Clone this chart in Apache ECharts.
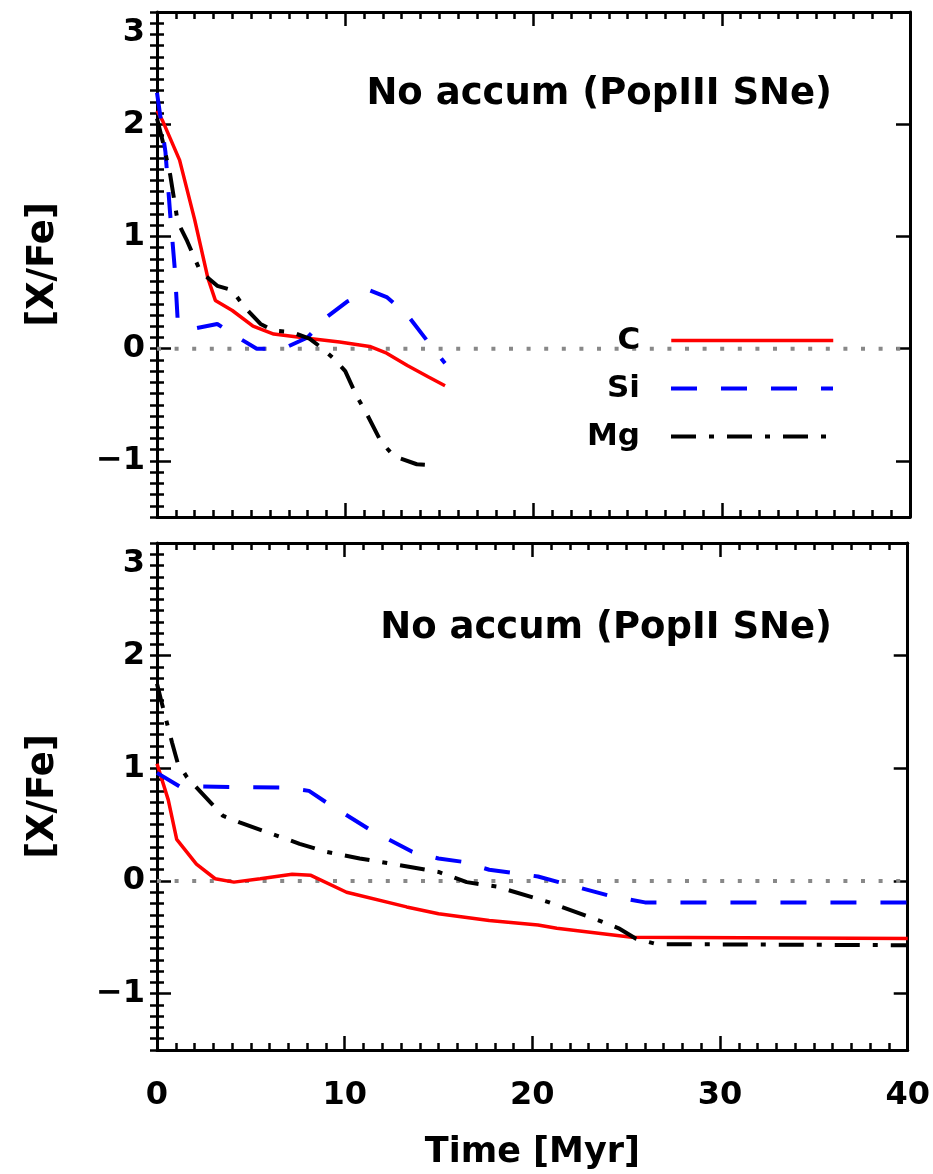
<!DOCTYPE html>
<html>
<head>
<meta charset="utf-8">
<script src="https://cdn.jsdelivr.net/npm/echarts@6/dist/echarts.min.js"></script>
<style>
  html, body { margin: 0; padding: 0; background: #fff; }
  #chart { width: 933px; height: 1174px; }
</style>
</head>
<body>
<div id="chart"></div>
<script>
// ---------------- data ----------------
const xTickValues = [0, 10, 20, 30, 40];
const yTickValues = [-1, 0, 1, 2, 3];
const zeroLineTime = [0, 40];
const zeroLineVal = [0, 0];

const topTitle = 'No accum (PopIII SNe)';
const botTitle = 'No accum (PopII SNe)';
const seriesNames = ['C', 'Si', 'Mg'];

// Top panel (PopIII SNe)
const topCTime = [0, 0.3, 1.2, 2, 2.7, 3.1, 4.0, 5.1, 6.2, 8.1, 9.7, 11.3, 12.2, 13.3, 14.4, 15.3];
const topCVal  = [2.12, 2.03, 1.68, 1.15, 0.63, 0.43, 0.34, 0.2, 0.13, 0.09, 0.06, 0.02, -0.04, -0.15, -0.25, -0.33];

const topSiTime = [0, 0.45, 0.7, 0.95, 1.1, 2.0, 3.2, 4.4, 5.3, 6.7, 8.0, 9.0, 10.1, 11.3, 12.2, 13.3, 14.4, 15.3];
const topSiVal  = [2.28, 1.75, 1.2, 0.7, 0.25, 0.18, 0.22, 0.09, 0.0, 0.0, 0.1, 0.28, 0.42, 0.52, 0.46, 0.3, 0.06, -0.13];

const topMgTime = [0, 0.3, 0.7, 1.1, 1.6, 2.3, 3.2, 4.0, 4.6, 5.5, 6.2, 7.1, 8.1, 8.8, 9.4, 10.0, 10.6, 11.2, 11.9, 12.6, 13.8, 14.7];
const topMgVal  = [2.05, 1.85, 1.55, 1.13, 0.96, 0.69, 0.56, 0.52, 0.38, 0.22, 0.16, 0.15, 0.09, 0.0, -0.09, -0.2, -0.42, -0.6, -0.83, -0.96, -1.03, -1.04];

// Bottom panel (PopII SNe)
const botCTime = [0, 0.6, 1.05, 2.1, 3.1, 4.1, 5.5, 7.2, 8.2, 10.1, 13.3, 15, 17.7, 20.3, 21.3, 25.3, 40];
const botCVal  = [1.04, 0.72, 0.37, 0.15, 0.02, -0.01, 0.02, 0.06, 0.05, -0.1, -0.23, -0.29, -0.35, -0.39, -0.42, -0.5, -0.51];

const botSiTime = [0, 1.2, 6.7, 8.1, 9.0, 11.3, 13.6, 15, 16.3, 17.7, 20.3, 21.4, 24.1, 26, 40];
const botSiVal  = [0.96, 0.84, 0.83, 0.8, 0.7, 0.46, 0.26, 0.2, 0.17, 0.1, 0.04, -0.01, -0.13, -0.19, -0.19];

const botMgTime = [0, 0.3, 0.8, 1.1, 1.6, 3.5, 4.4, 7.6, 9, 10.8, 12.6, 15, 16.5, 18.1, 20.9, 23.7, 24.6, 25.5, 26.6, 40];
const botMgVal  = [1.75, 1.55, 1.23, 1.05, 0.92, 0.58, 0.52, 0.33, 0.26, 0.2, 0.15, 0.08, -0.01, -0.05, -0.19, -0.36, -0.42, -0.51, -0.56, -0.57];

// ---------------- build ----------------
const FONT = "'DejaVu Sans', sans-serif";
const zip = (xs, ys) => xs.map((x, i) => [x, ys[i]]);

const styles = {
  C:  { color: '#ff0000', width: 3.5, type: 'solid' },
  Si: { color: '#0000ff', width: 4, type: [26, 24] },
  Mg: { color: '#000000', width: 4, type: [25, 13, 5, 13] }
};

const grids = [
  { left: 157, top: 12, width: 753, height: 505 },
  { left: 157, top: 543, width: 753, height: 507 }
];

function fmtY(v) {
  const s = v < 0 ? '\u2212' + Math.abs(v) : String(v);
  return v === 3 ? '{lo|' + s + '}' : s;
}

function xAxesFor(gi, showLabels) {
  const base = {
    type: 'value', gridIndex: gi, min: 0, max: 40, interval: 10,
    splitLine: { show: false },
    axisLine: { show: true, onZero: false, lineStyle: { color: '#000', width: 3 } },
    axisTick: { show: true, inside: true, length: 14, lineStyle: { color: '#000', width: 2.5 } },
    minorTick: { show: true, splitNumber: 10, length: 7, lineStyle: { color: '#000', width: 2.5 } },
    minorSplitLine: { show: false }
  };
  return [
    Object.assign({}, base, {
      position: 'bottom',
      axisLabel: { show: showLabels, margin: 30, fontSize: 32, fontWeight: 'bold', color: '#000', fontFamily: FONT },
      name: showLabels ? 'Time [Myr]' : '',
      nameLocation: 'middle', nameGap: 85,
      nameTextStyle: { fontSize: 35, fontWeight: 'bold', color: '#000', fontFamily: FONT }
    }),
    Object.assign({}, base, { position: 'top', axisLabel: { show: false } })
  ];
}

function yAxesFor(gi) {
  const base = {
    type: 'value', gridIndex: gi, min: -1.5, max: 3,
    splitLine: { show: false },
    axisLine: { show: true, onZero: false, lineStyle: { color: '#000', width: 3 } }
  };
  const majorTick = { show: true, inside: true, length: 14, customValues: yTickValues, lineStyle: { color: '#000', width: 2.5 } };
  const minorTickAx = {
    interval: 0.1,
    axisLine: { show: false },
    axisTick: { show: true, inside: true, length: 7, lineStyle: { color: '#000', width: 2.5 } },
    axisLabel: { show: false }
  };
  return [
    Object.assign({}, base, {
      position: 'left',
      axisTick: majorTick,
      axisLabel: {
        show: true, customValues: yTickValues, formatter: fmtY, margin: 12,
        fontSize: 32, fontWeight: 'bold', color: '#000', fontFamily: FONT,
        rich: { lo: { fontSize: 32, fontWeight: 'bold', fontFamily: FONT, color: '#000', padding: [42, 0, 0, 0] } }
      },
      name: '[X/Fe]', nameLocation: 'middle', nameGap: 95,
      nameTextStyle: { fontSize: 37, fontWeight: 'bold', color: '#000', fontFamily: FONT }
    }),
    Object.assign({}, base, { position: 'left' }, minorTickAx),
    Object.assign({}, base, { position: 'right', axisTick: majorTick, axisLabel: { show: false } }),
    Object.assign({}, base, { position: 'right' }, minorTickAx)
  ];
}

function panelSeries(xIdx, yIdx, c, si, mg) {
  const list = [{
    type: 'line', xAxisIndex: xIdx, yAxisIndex: yIdx, silent: true,
    data: zip(zeroLineTime, zeroLineVal), symbol: 'none',
    lineStyle: { color: '#888888', width: 4, type: [4, 13.6] }, z: 1
  }];
  [['C', c], ['Si', si], ['Mg', mg]].forEach(([n, d]) => {
    list.push({
      type: 'line', name: n, xAxisIndex: xIdx, yAxisIndex: yIdx,
      data: d, symbol: 'none', showSymbol: false,
      lineStyle: { color: styles[n].color, width: styles[n].width, type: styles[n].type, cap: 'butt' },
      itemStyle: { color: styles[n].color }, z: 3
    });
  });
  return list;
}

const legendTops = [340, 388, 436];

const option = {
  backgroundColor: '#ffffff',
  animation: false,
  grid: grids,
  title: [
    { text: topTitle, right: 101, top: 76, padding: 0,
      textStyle: { fontSize: 37, fontWeight: 'bold', fontFamily: FONT, color: '#000' } },
    { text: botTitle, right: 101, top: 610, padding: 0,
      textStyle: { fontSize: 37, fontWeight: 'bold', fontFamily: FONT, color: '#000' } }
  ],
  legend: seriesNames.map((n, i) => ({
    data: [n], right: 98, top: legendTops[i] - 15, padding: 0,
    orient: 'horizontal', align: 'right', selectedMode: false,
    itemWidth: 162, itemHeight: 30,
    itemStyle: { opacity: 0 },
    lineStyle: { width: styles[n].width, color: styles[n].color, type: styles[n].type, opacity: 1 },
    textStyle: { fontSize: 31, fontWeight: 'bold', fontFamily: FONT, color: '#000', padding: [0, 26, 0, 0] }
  })),
  xAxis: [].concat(xAxesFor(0, false), xAxesFor(1, true)),
  yAxis: [].concat(yAxesFor(0), yAxesFor(1)),
  series: [].concat(
    panelSeries(0, 0, zip(topCTime, topCVal), zip(topSiTime, topSiVal), zip(topMgTime, topMgVal)),
    panelSeries(2, 4, zip(botCTime, botCVal), zip(botSiTime, botSiVal), zip(botMgTime, botMgVal))
  )
};

const chart = echarts.init(document.getElementById('chart'), null, { renderer: 'canvas' });
chart.setOption(option);
</script>
</body>
</html>
